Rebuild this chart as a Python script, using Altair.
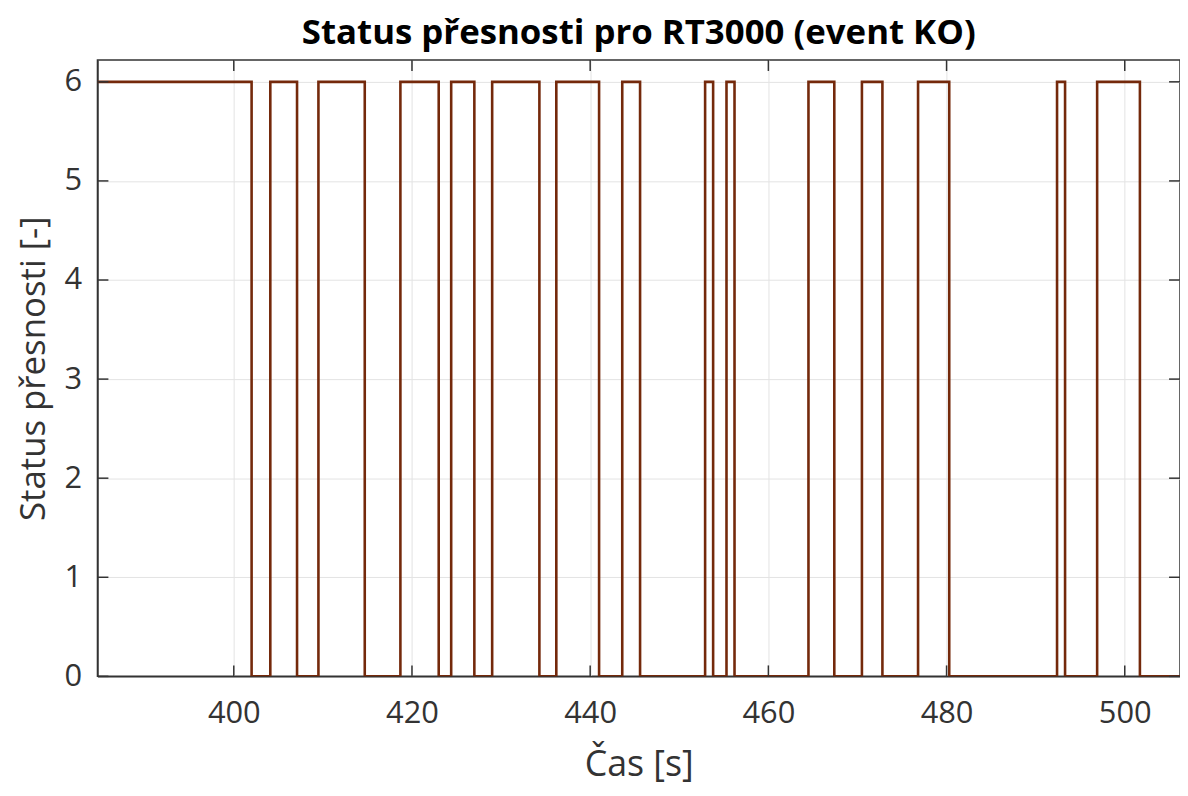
import altair as alt
import pandas as pd

# transition times [s] and accuracy status values (step-after)
times = [384.7, 402.0, 404.1, 407.1, 409.5, 414.7, 418.7, 423.0, 424.4, 427.0,
         429.0, 434.3, 436.2, 441.0, 443.6, 445.6, 452.9, 453.8, 455.3, 456.2,
         464.5, 467.4, 470.5, 472.8, 476.8, 480.3, 492.4, 493.3, 496.9, 501.7,
         506.2]
status = [6, 0, 6, 0, 6, 0, 6, 0, 6, 0,
          6, 0, 6, 0, 6, 0, 6, 0, 6, 0,
          6, 0, 6, 0, 6, 0, 6, 0, 6, 0,
          0]
x_ticks = [400, 420, 440, 460, 480, 500]
y_ticks = [0, 1, 2, 3, 4, 5, 6]

x_domain = [384.7, 506.2]
y_domain = [0, 6.22]

df = pd.DataFrame({"t": times, "s": status})
xt = pd.DataFrame({"t": x_ticks})
yt = pd.DataFrame({"s": y_ticks})

W, H = 1089, 620
FONT = "Open Sans"

xscale = alt.Scale(domain=x_domain, nice=False, zero=False)
yscale = alt.Scale(domain=y_domain, nice=False, zero=False)

line = alt.Chart(df).mark_line(
    interpolate="step-after", color="#74290b", strokeWidth=2.6, clip=True
).encode(
    x=alt.X("t:Q", scale=xscale,
            axis=alt.Axis(values=x_ticks, title="Čas [s]", format="d",
                          grid=True, gridColor="#e3e3e3", gridWidth=1,
                          tickSize=0, labelPadding=22, labelFontSize=31,
                          labelColor="#333333", titleFontSize=36,
                          titleFontWeight="normal", titleColor="#333333",
                          titlePadding=20, domainColor="#333333",
                          domainWidth=1.5, labelFont=FONT, titleFont=FONT)),
    y=alt.Y("s:Q", scale=yscale,
            axis=alt.Axis(values=y_ticks, title="Status přesnosti [-]",
                          format="d",
                          grid=True, gridColor="#e3e3e3", gridWidth=1,
                          tickSize=0, labelPadding=16, labelFontSize=31,
                          labelColor="#333333", titleFontSize=35,
                          titleFontWeight="normal", titleColor="#333333",
                          titlePadding=13, domainColor="#333333",
                          domainWidth=1.5, labelFont=FONT, titleFont=FONT)),
)

xtick_bot = alt.Chart(xt).mark_rule(color="#333333", strokeWidth=1.5).encode(
    x=alt.X("t:Q", scale=xscale), y=alt.value(H), y2=alt.value(H - 11))
xtick_top = alt.Chart(xt).mark_rule(color="#333333", strokeWidth=1.5).encode(
    x=alt.X("t:Q", scale=xscale), y=alt.value(0), y2=alt.value(11))
ytick_l = alt.Chart(yt).mark_rule(color="#333333", strokeWidth=1.5).encode(
    y=alt.Y("s:Q", scale=yscale), x=alt.value(0), x2=alt.value(11))
ytick_r = alt.Chart(yt).mark_rule(color="#333333", strokeWidth=1.5).encode(
    y=alt.Y("s:Q", scale=yscale), x=alt.value(W), x2=alt.value(W - 11))

chart = alt.layer(line, xtick_bot, xtick_top, ytick_l, ytick_r).properties(
    width=W, height=H,
    title=alt.TitleParams("Status přesnosti pro RT3000 (event KO)",
                          fontSize=35, fontWeight="bold", font=FONT,
                          color="#000000", offset=8),
    padding={"left": 90, "top": 50, "right": 0, "bottom": 116},
    autosize=alt.AutoSizeParams(type="none"),
).configure_view(stroke="#333333", strokeWidth=1.5)

chart.save("out.html", embed_options={"renderer": "svg", "actions": False})
